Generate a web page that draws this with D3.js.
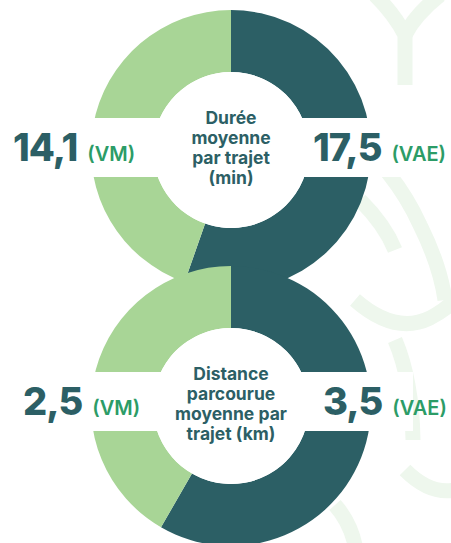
<!DOCTYPE html>
<html>
<head>
<meta charset="utf-8">
<script src="https://cdn.jsdelivr.net/npm/d3@7"></script>
<style>
  html, body { margin: 0; padding: 0; background: #fff; }
  svg { display: block; font-family: Inter, "Open Sans", sans-serif; }
</style>
</head>
<body>
<svg id="viz"></svg>
<script>
// Data
var modes = ["VAE", "VM"];
var dureeValues = [17.5, 14.1];
var distanceValues = [3.5, 2.5];
var dureeLabels = ["17,5", "14,1"];
var distanceLabels = ["3,5", "2,5"];
var dureeTitle = ["Durée", "moyenne", "par trajet", "(min)"];
var distanceTitle = ["Distance", "parcourue", "moyenne par", "trajet (km)"];

var svg = d3.select("#viz");
var dims = { width: 451, height: 543 };
svg.attr("width", dims.width).attr("height", dims.height);

var color = d3.scaleOrdinal().domain(modes).range(["#2c5f65", "#a8d596"]);
var darkText = "#2c5f65";
var greenText = "#2c9c67";
var decoColor = "#eef7ed";

//Faint decoration in the background
var deco = svg.append("g")
    .attr("fill", "none")
    .attr("stroke", decoColor)
    .attr("stroke-width", 15);
deco.append("path").attr("d", "M375,-5 Q395,15 405,35 L405,85");
deco.append("path").attr("d", "M440,-5 Q415,15 405,35");
deco.append("path").attr("d", "M345,130 Q395,170 420,225 Q440,265 445,300");
deco.append("path").attr("d", "M360,200 Q385,225 395,250");
deco.append("path").attr("d", "M355,300 Q395,335 430,318 Q445,310 455,300");
deco.append("path").attr("d", "M395,340 Q412,380 413,440");
deco.append("path").attr("d", "M405,470 Q430,495 455,490");
deco.append("path").attr("d", "M335,505 Q350,522 355,545");

var pie = d3.pie().sort(null).value(d => d.value);
var arc = d3.arc().innerRadius(78).outerRadius(140);

var charts = [
    { cy: 150, values: dureeValues, labels: dureeLabels, title: dureeTitle, band: [118, 177], xl: 13, xr: 313 },
    { cy: 406, values: distanceValues, labels: distanceLabels, title: distanceTitle, band: [372, 431], xl: 23, xr: 323 }
];

//Draw the donuts, bottom one over the top one
charts.forEach(c => {
    var g = svg.append("g").attr("transform", `translate(231,${c.cy})`);
    var data = modes.map((m, i) => ({ mode: m, value: c.values[i] }));
    g.selectAll("path")
        .data(pie(data))
        .enter()
        .append("path")
        .attr("d", arc)
        .attr("fill", d => color(d.data.mode));
});

//White bands and labels
charts.forEach(c => {
    svg.append("rect")
        .attr("x", 0)
        .attr("y", c.band[0])
        .attr("width", 413)
        .attr("height", c.band[1] - c.band[0])
        .attr("fill", "#fff");

    svg.append("circle")
        .attr("cx", 231)
        .attr("cy", c.cy)
        .attr("r", 78)
        .attr("fill", "#fff");

    var mid = (c.band[0] + c.band[1]) / 2;

    //Left (VM) and right (VAE) values
    [[1, c.xl], [0, c.xr]].forEach(([i, x]) => {
        var t = svg.append("text")
            .attr("x", x)
            .attr("y", mid + 13)
            .attr("fill", darkText);
        t.append("tspan")
            .attr("font-size", 38)
            .attr("font-weight", 800)
            .attr("letter-spacing", -1)
            .text(c.labels[i]);
        t.append("tspan")
            .attr("dx", 10)
            .attr("font-size", 20)
            .attr("font-weight", 600)
            .attr("fill", greenText)
            .text(`(${modes[i]})`);
    });

    //Center title
    svg.append("g")
        .selectAll("text")
        .data(c.title)
        .enter()
        .append("text")
        .attr("x", 231)
        .attr("y", (d, i) => c.cy - 26 + i * 20)
        .attr("text-anchor", "middle")
        .attr("font-size", 17.5)
        .attr("font-weight", 700)
        .attr("fill", darkText)
        .text(d => d);
});
</script>
</body>
</html>
